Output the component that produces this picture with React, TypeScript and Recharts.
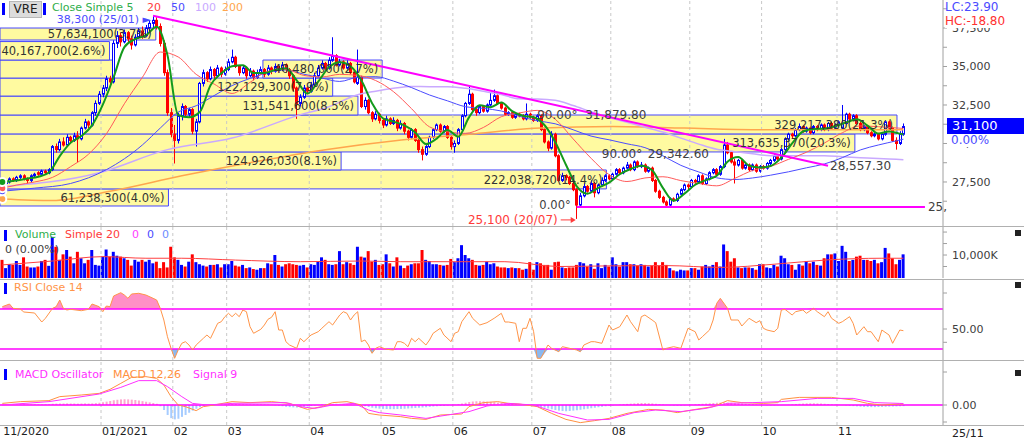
import React from 'react';
import {
  ComposedChart, Bar, Line, Area, XAxis, YAxis, Cell,
  ReferenceLine, ReferenceArea, ReferenceDot,
} from 'recharts';

const FONT = '"DejaVu Sans", Verdana, sans-serif';

// VRE daily candles, thousand VND, late 11/2020 .. 25/11/2021
const opens = [
  27.6, 27.4, 27.5, 27.7, 27.6, 27.8, 27.9, 27.7, 27.6, 27.9,
  28.1, 28.0, 28.2, 28.1, 28.3, 29.8, 29.6, 30.1, 29.9, 30.4,
  30.2, 30.5, 30.3, 31.0, 31.4, 31.2, 32.0, 32.6, 33.2, 33.6,
  34.2, 34.0, 36.5, 37.0, 36.6, 37.2, 36.8, 36.4, 36.9, 37.3,
  37.0, 37.5, 37.8, 38.0, 37.6, 36.5, 34.6, 32.0, 30.6, 30.2,
  31.8, 32.4, 31.9, 32.2, 30.8, 31.4, 33.9, 34.6, 34.2, 34.8,
  34.4, 34.9, 34.5, 34.8, 35.3, 35.6, 35.0, 34.6, 34.9, 34.4,
  34.7, 34.3, 34.6, 34.8, 34.5, 34.9, 34.7, 35.0, 34.8, 35.1,
  34.8, 34.4, 33.6, 32.6, 33.0, 33.6, 33.4, 33.8, 34.4, 34.9,
  35.2, 34.9, 35.4, 35.7, 35.1, 35.3, 34.9, 35.2, 34.6, 33.9,
  34.3, 32.4, 32.8, 32.0, 31.6, 31.9, 31.5, 31.2, 31.6, 31.3,
  31.5, 31.0, 31.3, 30.8, 30.4, 30.9, 30.2, 29.6, 29.3, 29.8,
  30.4, 30.9, 31.2, 30.8, 31.1, 30.4, 29.8, 30.0, 30.9, 31.8,
  32.6, 33.2, 32.2, 32.0, 32.4, 32.1, 32.5, 32.8, 33.1, 32.6,
  32.3, 31.9, 32.0, 31.7, 31.9, 31.8, 31.6, 31.9, 31.7, 31.5,
  31.8, 30.9, 30.1, 29.7, 30.6, 29.2, 27.6, 27.9, 27.8, 27.4,
  27.0, 26.0, 26.6, 27.2, 26.9, 27.4, 26.8, 27.3, 27.6, 27.9,
  27.7, 28.0, 28.3, 28.1, 28.4, 28.6, 28.3, 28.8, 28.5, 28.6,
  28.2, 28.4, 27.6, 26.9, 26.5, 26.2, 26.0, 26.4, 26.3, 26.7,
  27.0, 27.3, 27.2, 27.6, 27.5, 27.9, 27.4, 27.7, 28.1, 28.3,
  28.0, 28.5, 29.9, 29.4, 28.8, 28.6, 28.9, 28.4, 28.6, 28.3,
  28.6, 28.2, 28.5, 28.4, 28.7, 28.9, 29.2, 29.0, 29.6, 30.3,
  30.6, 30.5, 30.9, 31.1, 30.8, 31.0, 30.7, 31.1, 30.9, 31.2,
  30.9, 31.3, 31.0, 31.2, 31.0, 31.3, 31.9, 31.6, 31.8, 31.3,
  30.9, 31.1, 30.7, 30.5, 30.6, 30.3, 30.6, 31.4, 31.0, 30.2,
  30.0, 30.6,
];
const highs = [
  27.7, 27.6, 27.8, 27.8, 27.9, 28.0, 28.0, 27.8, 28.0, 28.1,
  28.2, 28.3, 28.3, 28.4, 29.9, 30.0, 30.3, 30.4, 30.6, 30.5,
  30.7, 30.8, 31.1, 31.6, 31.5, 32.1, 32.8, 33.4, 33.8, 34.4,
  34.4, 36.7, 37.3, 37.2, 37.4, 37.3, 37.0, 37.1, 37.5, 37.6,
  37.7, 38.0, 38.3, 38.2, 37.8, 36.7, 34.8, 32.3, 31.2, 32.0,
  32.6, 32.5, 32.3, 32.3, 31.6, 34.0, 34.8, 34.7, 35.0, 34.9,
  35.1, 35.0, 35.0, 35.5, 36.1, 35.7, 35.1, 35.1, 35.0, 34.9,
  34.8, 34.8, 35.0, 34.9, 35.1, 35.0, 35.2, 35.1, 35.3, 35.2,
  34.9, 34.5, 33.7, 33.2, 33.8, 33.7, 34.0, 34.6, 35.1, 35.4,
  35.3, 35.6, 36.9, 35.8, 35.5, 35.4, 35.4, 35.3, 34.7, 36.1,
  34.4, 33.0, 32.9, 32.1, 32.1, 32.0, 31.6, 31.8, 31.7, 31.7,
  31.6, 31.5, 31.4, 30.9, 31.0, 31.0, 30.3, 29.8, 29.9, 30.5,
  31.0, 31.3, 31.3, 31.2, 31.2, 30.5, 30.2, 31.0, 31.9, 32.7,
  33.7, 33.3, 32.4, 32.5, 32.5, 32.6, 33.3, 33.5, 33.2, 32.7,
  32.4, 32.1, 32.1, 32.0, 32.0, 31.9, 32.6, 32.0, 31.8, 31.9,
  31.9, 31.0, 30.2, 30.8, 30.7, 29.3, 28.1, 28.0, 27.9, 27.5,
  27.1, 26.8, 27.4, 27.3, 27.6, 27.5, 27.4, 27.8, 28.0, 28.0,
  28.1, 28.4, 28.4, 28.5, 28.8, 28.7, 28.9, 28.9, 28.8, 28.7,
  28.5, 28.5, 27.7, 27.0, 26.6, 26.3, 26.5, 26.5, 26.8, 27.1,
  27.4, 27.4, 27.7, 27.7, 28.0, 28.0, 27.8, 28.2, 28.4, 28.4,
  28.6, 30.3, 30.1, 29.5, 29.0, 29.0, 29.0, 28.7, 28.7, 28.7,
  28.7, 28.6, 28.6, 28.8, 29.0, 29.3, 29.3, 29.7, 30.4, 30.7,
  30.7, 31.0, 31.3, 31.2, 31.1, 31.1, 31.2, 31.2, 31.3, 31.3,
  31.4, 31.4, 31.3, 31.5, 32.5, 32.0, 32.0, 31.9, 31.9, 31.4,
  31.2, 31.2, 30.8, 30.7, 30.7, 30.7, 31.5, 31.5, 31.1, 30.4,
  30.8, 31.3,
];
const lows = [
  27.3, 27.3, 27.4, 27.5, 27.5, 27.7, 27.6, 27.4, 27.5, 27.8,
  27.9, 27.9, 28.0, 28.0, 28.2, 29.4, 29.5, 29.8, 29.8, 30.0,
  30.1, 28.8, 30.2, 30.9, 31.0, 31.1, 31.8, 32.5, 33.0, 33.4,
  33.8, 33.9, 36.2, 36.3, 36.5, 36.5, 36.1, 36.3, 36.8, 36.8,
  36.9, 37.3, 37.5, 37.4, 36.3, 34.4, 31.8, 30.4, 28.7, 30.0,
  31.5, 31.7, 31.7, 30.6, 29.8, 31.3, 33.7, 34.0, 34.1, 34.2,
  34.3, 34.3, 34.4, 34.7, 35.2, 34.9, 34.4, 34.5, 34.2, 34.3,
  34.1, 34.2, 34.5, 34.3, 34.4, 34.5, 34.6, 34.6, 34.7, 34.6,
  34.2, 33.4, 31.6, 32.4, 32.9, 33.2, 33.3, 33.7, 34.3, 34.8,
  34.7, 34.8, 35.3, 35.0, 35.0, 34.8, 34.8, 34.5, 33.9, 33.8,
  32.3, 32.2, 31.9, 31.4, 31.5, 31.3, 31.0, 31.1, 31.2, 31.2,
  30.8, 30.9, 30.6, 30.2, 30.3, 30.1, 29.4, 28.9, 29.2, 29.7,
  30.3, 30.8, 30.7, 30.7, 30.3, 29.6, 29.4, 29.9, 30.8, 31.7,
  32.5, 32.1, 31.8, 31.9, 32.0, 32.0, 32.4, 32.7, 32.5, 32.2,
  31.8, 31.8, 31.6, 31.6, 31.7, 31.5, 31.5, 31.6, 31.4, 31.4,
  30.8, 30.0, 29.5, 29.6, 29.1, 27.5, 27.5, 27.6, 27.3, 26.9,
  25.1, 25.9, 26.5, 26.8, 26.8, 26.5, 26.7, 27.2, 27.5, 27.6,
  27.6, 27.9, 28.0, 28.0, 28.3, 28.2, 28.2, 28.4, 28.4, 28.1,
  28.1, 27.5, 26.8, 26.4, 26.1, 25.9, 25.9, 26.2, 26.2, 26.6,
  26.9, 27.0, 27.1, 27.3, 27.4, 27.3, 27.3, 27.6, 28.0, 27.9,
  27.9, 28.4, 29.3, 28.7, 27.4, 28.5, 28.3, 28.3, 28.2, 28.2,
  28.1, 28.1, 28.3, 28.3, 28.6, 28.8, 28.9, 28.9, 29.5, 30.2,
  30.3, 30.4, 30.8, 30.7, 30.7, 30.6, 30.6, 30.8, 30.8, 30.8,
  30.8, 30.9, 30.9, 31.1, 30.9, 31.2, 31.5, 31.5, 31.2, 30.8,
  30.8, 30.6, 30.4, 30.4, 30.2, 30.2, 30.5, 30.9, 30.1, 29.6,
  29.9, 30.5,
];
const closes = [
  27.4, 27.5, 27.7, 27.6, 27.8, 27.9, 27.7, 27.6, 27.9, 28.0,
  28.0, 28.2, 28.1, 28.3, 29.8, 29.6, 30.1, 29.9, 30.4, 30.2,
  30.5, 30.3, 31.0, 31.4, 31.2, 32.0, 32.6, 33.2, 33.6, 34.2,
  34.0, 36.5, 37.0, 36.6, 37.2, 36.8, 36.4, 36.9, 37.3, 37.0,
  37.5, 37.8, 38.0, 37.6, 36.5, 34.6, 32.0, 30.6, 30.2, 31.8,
  32.4, 31.9, 32.2, 30.8, 31.4, 33.9, 34.6, 34.2, 34.8, 34.4,
  34.9, 34.5, 34.8, 35.3, 35.6, 35.0, 34.6, 34.9, 34.4, 34.7,
  34.3, 34.6, 34.8, 34.5, 34.9, 34.7, 35.0, 34.8, 35.1, 34.8,
  34.4, 33.6, 32.6, 33.0, 33.6, 33.4, 33.8, 34.4, 34.9, 35.2,
  34.9, 35.4, 35.7, 35.1, 35.3, 34.9, 35.2, 34.6, 34.0, 34.3,
  32.4, 32.8, 32.0, 31.6, 31.9, 31.5, 31.2, 31.6, 31.3, 31.5,
  31.0, 31.3, 30.8, 30.4, 30.9, 30.2, 29.6, 29.3, 29.8, 30.4,
  30.9, 31.2, 30.8, 31.1, 30.4, 29.8, 30.0, 30.9, 31.8, 32.6,
  33.2, 32.2, 32.0, 32.4, 32.1, 32.5, 32.8, 33.1, 32.6, 32.3,
  31.9, 32.0, 31.7, 31.9, 31.8, 31.6, 31.9, 31.7, 31.5, 31.8,
  30.9, 30.1, 29.7, 30.6, 29.2, 27.6, 27.9, 27.8, 27.4, 27.0,
  26.0, 26.6, 27.2, 26.9, 27.4, 26.8, 27.3, 27.6, 27.9, 27.7,
  28.0, 28.3, 28.1, 28.4, 28.6, 28.3, 28.8, 28.5, 28.6, 28.2,
  28.4, 27.6, 26.9, 26.5, 26.2, 26.0, 26.4, 26.3, 26.7, 27.0,
  27.3, 27.2, 27.6, 27.5, 27.9, 27.4, 27.7, 28.1, 28.3, 28.0,
  28.5, 29.9, 29.4, 28.8, 28.6, 28.9, 28.4, 28.6, 28.3, 28.6,
  28.2, 28.5, 28.4, 28.7, 28.9, 29.2, 29.0, 29.6, 30.3, 30.6,
  30.5, 30.9, 31.1, 30.8, 31.0, 30.7, 31.1, 30.9, 31.2, 30.9,
  31.3, 31.0, 31.2, 31.4, 31.3, 31.9, 31.6, 31.8, 31.3, 30.9,
  31.1, 30.7, 30.5, 30.6, 30.3, 30.6, 31.4, 31.0, 30.2, 30.0,
  30.6, 31.1,
];
// volume, thousand shares
const volumes = [
  7900, 4300, 6000, 5700, 7400, 5700, 9000, 5000, 4600, 4600,
  5000, 7400, 7900, 5300, 17900, 13600, 7900, 10300, 12200, 9300,
  6400, 11400, 8600, 6400, 7900, 12200, 5700, 5400, 9300, 12400,
  9300, 11400, 9700, 9300, 8600, 7900, 5400, 7900, 7100, 7900,
  7100, 7900, 6400, 7100, 4300, 6900, 4600, 13600, 9000, 7900,
  5700, 5000, 7100, 10300, 6900, 6000, 5400, 5000, 5700, 5700,
  6000, 4600, 6000, 6000, 7400, 5400, 5000, 5700, 4300, 4600,
  3900, 3600, 4300, 4300, 6400, 6000, 10000, 5700, 5000, 6000,
  6400, 6000, 5700, 5400, 5700, 4600, 6000, 5700, 7100, 9000,
  7900, 6000, 5700, 6000, 11700, 6000, 6900, 6400, 5700, 13600,
  9300, 8900, 11700, 7100, 7900, 5700, 6000, 10300, 6400, 5000,
  9000, 5400, 4300, 5400, 6000, 6400, 6400, 12200, 7900, 7400,
  6000, 6000, 5700, 5400, 5700, 8300, 6900, 8600, 14300, 10000,
  8600, 7900, 5700, 5400, 5700, 7100, 6000, 6400, 5000, 4600,
  4600, 4300, 4600, 4300, 4300, 3600, 4000, 6900, 3600, 6900,
  6400, 5700, 5700, 3600, 6900, 7100, 4600, 4300, 4600, 4600,
  5700, 6900, 6400, 5000, 6000, 4000, 6400, 4300, 5700, 5000,
  9000, 6000, 5000, 6900, 6900, 6000, 6000, 5400, 6000, 5700,
  5000, 5400, 6900, 5400, 6900, 5700, 4300, 3300, 2900, 3600,
  3300, 3300, 4300, 4300, 3600, 5000, 5700, 5000, 5700, 6900,
  5000, 14600, 11700, 7100, 8600, 4600, 4300, 4600, 4600, 4300,
  3600, 6000, 6000, 4600, 4300, 5700, 5000, 9700, 8600, 6000,
  5700, 3600, 6000, 5400, 7400, 6400, 7100, 5700, 5400, 8600,
  10300, 10300, 10700, 7400, 14000, 11400, 7400, 7900, 9300, 9700,
  7900, 7900, 7400, 7900, 6400, 6900, 13100, 10700, 8600, 6000,
  7900, 10300,
];

// moving averages: [day index, value]
const sma5 = [
  [0, 27.5], [4, 27.6], [7, 27.72], [10, 27.84], [13, 28.12], [16, 29.18], [19, 30.04], [22, 30.48],
  [25, 31.18], [28, 32.52], [31, 34.3], [34, 36.26], [37, 36.78], [40, 37.02], [43, 37.58], [46, 35.74],
  [49, 31.84], [52, 31.7], [55, 32.04], [58, 33.78], [61, 34.56], [64, 35.02], [67, 35.08], [70, 34.58],
  [73, 34.58], [76, 34.78], [79, 34.88], [82, 34.1], [85, 33.24], [88, 34.02], [91, 34.96], [94, 35.28],
  [97, 35.02], [100, 34.1], [103, 32.62], [106, 31.64], [109, 31.42], [112, 31.18], [115, 30.72], [118, 29.96],
  [121, 30.32], [124, 30.88], [127, 30.44], [130, 31.7], [133, 32.48], [136, 32.36], [139, 32.66], [142, 32.1],
  [145, 31.8], [148, 31.7], [151, 31.2], [154, 30.1], [157, 28.62], [160, 27.22], [163, 26.74], [166, 27.12],
  [169, 27.46], [172, 28.0], [175, 28.34], [178, 28.56], [181, 28.26], [184, 27.12], [187, 26.28], [190, 26.74],
  [193, 27.32], [196, 27.62], [199, 27.9], [202, 28.82], [205, 29.12], [208, 28.56], [211, 28.44], [214, 28.54],
  [217, 29.08], [220, 30.0], [223, 30.78], [226, 30.94], [229, 30.96], [232, 31.12], [235, 31.36], [238, 31.58],
  [241, 31.16], [244, 30.64], [247, 30.78], [250, 30.64], [251, 30.58],
];
const sma20 = [
  [0, 27.1], [4, 27.3], [9, 27.5], [14, 27.8], [19, 28.49], [24, 29.3], [29, 30.63], [34, 32.58],
  [39, 34.29], [44, 35.94], [49, 35.62], [54, 34.49], [59, 33.86], [64, 33.25], [69, 33.97], [74, 34.69],
  [79, 34.81], [84, 34.42], [89, 34.32], [94, 34.49], [99, 34.42], [104, 34.09], [109, 33.36], [114, 32.26],
  [119, 31.08], [124, 30.76], [129, 30.66], [134, 31.04], [139, 31.74], [144, 31.98], [149, 32.15], [154, 31.58],
  [159, 30.3], [164, 29.04], [169, 27.98], [174, 27.53], [179, 27.76], [184, 27.84], [189, 27.59], [194, 27.4],
  [199, 27.25], [204, 27.73], [209, 28.25], [214, 28.51], [219, 28.97], [224, 29.43], [229, 30.03], [234, 30.7],
  [239, 31.14], [244, 31.09], [249, 31.01], [251, 30.98],
];
const sma50 = [
  [0, 26.9], [9, 27.1], [19, 27.4], [29, 28.3], [39, 29.9], [44, 31.0], [49, 32.04], [54, 32.45],
  [59, 33.11], [64, 33.76], [69, 34.23], [74, 34.61], [79, 34.78], [84, 34.5], [89, 34.25], [94, 34.03],
  [99, 34.3], [104, 34.34], [109, 34.05], [114, 33.63], [119, 33.15], [124, 32.77], [129, 32.39], [134, 32.28],
  [139, 32.11], [144, 31.77], [149, 31.48], [154, 31.28], [159, 30.89], [164, 30.48], [169, 30.24], [174, 29.98],
  [179, 29.73], [184, 29.2], [189, 28.58], [194, 28.15], [199, 27.77], [204, 27.66], [209, 27.76], [214, 27.94],
  [219, 28.16], [224, 28.42], [229, 28.67], [234, 29.08], [239, 29.58], [244, 29.9], [249, 30.17], [251, 30.28],
];
const sma100 = [
  [0, 27.2], [27, 28.1], [46, 29.6], [64, 30.35], [84, 31.94], [90, 32.3], [99, 33.17], [104, 33.4],
  [109, 33.58], [114, 33.7], [119, 33.69], [124, 33.69], [129, 33.58], [134, 33.39], [139, 33.18], [144, 32.9],
  [149, 32.89], [154, 32.81], [159, 32.47], [164, 32.06], [169, 31.69], [174, 31.38], [179, 31.06], [184, 30.74],
  [189, 30.35], [194, 29.96], [199, 29.62], [204, 29.47], [209, 29.33], [214, 29.21], [219, 29.2], [224, 29.2],
  [229, 29.2], [234, 29.14], [239, 29.08], [244, 29.02], [249, 28.97], [251, 28.95],
];
const sma200 = [
  [0, 26.4], [14, 26.3], [30, 26.9], [50, 27.9], [70, 28.8], [90, 29.6], [110, 30.2], [130, 30.6],
  [150, 31.0], [170, 31.1], [190, 31.0], [210, 30.9], [230, 30.9], [251, 30.9],
];
const volSma20 = [
  [0, 5700], [14, 7400], [28, 9300], [40, 8600], [50, 8600], [65, 7800], [83, 7100], [100, 7400],
  [111, 7100], [130, 7100], [140, 7100], [155, 5000], [170, 5300], [185, 5400], [200, 4600], [215, 6000],
  [230, 7900], [245, 8600], [251, 8600],
];

const rsi14 = [
  [0, 72.3], [2, 75], [3, 70.7], [5, 70], [6, 67], [9, 66], [11, 57], [12, 60.7], [14, 70.7], [15, 72.3],
  [16, 79], [17, 70.7], [18, 69], [19, 69.7], [22, 68.3], [24, 69.7], [25, 75], [27, 72.3], [28, 67.3], [29, 73],
  [30, 72.3], [31, 83], [33, 86.3], [34, 84], [35, 80.7], [36, 85], [38, 85.7], [40, 84], [42, 80.7], [43, 79],
  [44, 70.7], [45, 59], [46, 42.3], [47, 30.7], [48, 20.7], [49, 29], [50, 35.7], [51, 37.3], [52, 34], [53, 29],
  [54, 34], [56, 40.7], [57, 44], [58, 40.7], [60, 55.7], [61, 57.3], [62, 62.3], [63, 65.7], [64, 62.3], [65, 65.7],
  [66, 62.3], [67, 69], [68, 67.3], [69, 52.3], [70, 45.7], [72, 49.7], [73, 54], [74, 59.7], [75, 61.7], [76, 67.3],
  [77, 49], [78, 49], [79, 37.3], [80, 34], [82, 30.7], [83, 40.7], [84, 37.3], [86, 44], [88, 47.3], [89, 50.7],
  [91, 57.3], [92, 54], [94, 64], [95, 67.3], [96, 65.7], [97, 59], [98, 64], [99, 67.3], [100, 37.3], [101, 39],
  [102, 34], [103, 25.7], [104, 30.7], [105, 32.3], [107, 29.7], [109, 29], [110, 37.3], [111, 37.3], [112, 35.7], [113, 32.3],
  [114, 40.7], [115, 37.3], [116, 40.7], [118, 34], [119, 39], [120, 45.7], [122, 50.7], [123, 44], [125, 37.3], [126, 45.7],
  [127, 47.3], [128, 57.3], [130, 67.3], [131, 60.7], [133, 54], [135, 56.3], [137, 60.7], [139, 65.7], [140, 57], [141, 57],
  [143, 55.7], [144, 37.3], [145, 50.7], [146, 50.7], [147, 60.7], [148, 47.3], [149, 20.7], [150, 20.7], [152, 34], [153, 30.7],
  [155, 27.3], [156, 32.3], [158, 30.7], [160, 29], [161, 27.3], [162, 34], [164, 37.3], [165, 37.3], [167, 35.7], [169, 54],
  [170, 49], [172, 52.3], [174, 64], [175, 57.3], [177, 47.3], [178, 62.3], [179, 64], [181, 59], [182, 56.3], [184, 29],
  [185, 30.7], [187, 32.3], [189, 30.7], [190, 40.7], [191, 50.7], [193, 47.3], [194, 39], [195, 42.3], [197, 49], [198, 59],
  [199, 75.7], [200, 80.7], [202, 70.7], [203, 59], [205, 59], [206, 53], [208, 60.7], [210, 56.3], [211, 58.3], [212, 50.7],
  [213, 49], [215, 47.3], [216, 50.7], [217, 69], [218, 69.7], [220, 64], [221, 67.3], [223, 69], [224, 65.7], [226, 70.7],
  [227, 67.3], [229, 62.3], [230, 67.3], [231, 60.7], [233, 55.7], [234, 57.3], [236, 62.3], [237, 55.7], [238, 44], [240, 52.3],
  [241, 47.3], [242, 47.3], [244, 37.3], [245, 49], [247, 44], [248, 35.7], [250, 49], [251, 48.3],
];

// MACD 12,26 / signal 9, thousand VND
const macdLine = [
  [0, 0.13], [5, 0.27], [13, 0.35], [16, 0.67], [22, 0.8], [27, 0.93], [30, 1.25], [33, 1.73], [36, 2.21], [40, 2.27],
  [43, 2.13], [45, 1.6], [47, 0.67], [49, 0], [51, -0.13], [54, -0.45], [56, -0.13], [59, 0], [64, 0.27], [69, 0.19],
  [75, 0.27], [80, 0.13], [85, -0.35], [89, -0.13], [92, 0.19], [96, 0.27], [100, 0], [102, -0.67], [105, -0.8], [111, -0.93],
  [114, -1.07], [118, -1.15], [122, -0.8], [128, -0.72], [130, -0.13], [134, 0.19], [138, 0.27], [141, 0.13], [144, 0.08], [149, -0.13],
  [153, -0.67], [157, -1.15], [161, -1.41], [165, -1.25], [169, -1.07], [174, -0.67], [180, -0.35], [184, -0.4], [188, -0.61], [192, -0.4],
  [198, -0.13], [202, 0.35], [206, 0.19], [212, 0.13], [216, 0.19], [217, 0.45], [222, 0.61], [231, 0.61], [237, 0.4], [241, 0.13],
  [245, 0], [250, 0.08], [251, 0.08],
];
const signalLine = [
  [0, 0], [13, 0.27], [27, 0.88], [33, 1.41], [38, 1.95], [43, 1.95], [46, 1.47], [50, 0.67], [53, 0.13], [57, 0],
  [64, 0.13], [79, 0.19], [83, -0.13], [87, -0.27], [92, 0], [98, 0.13], [102, -0.4], [105, -0.61], [111, -0.8], [118, -1.07],
  [124, -0.8], [130, -0.53], [135, -0.08], [141, 0.13], [148, 0], [155, -0.67], [163, -1.2], [169, -1.15], [176, -0.61], [182, -0.4],
  [189, -0.53], [196, -0.27], [202, 0.13], [209, 0.19], [217, 0.27], [227, 0.53], [237, 0.53], [243, 0.19], [250, 0.13], [251, 0.12],
];
const macdHist = [
  0.03, 0.03, 0.04, 0.03, 0.04, 0.05, 0.04, 0.03, 0.04, 0.05, 0.05, 0.04, 0.05, 0.06,
  0.10, 0.11, 0.12, 0.12, 0.13, 0.12, 0.12, 0.11, 0.12, 0.13, 0.12, 0.13, 0.15, 0.18,
  0.22, 0.27, 0.32, 0.38, 0.42, 0.45, 0.46, 0.45, 0.43, 0.40, 0.36, 0.31, 0.26, 0.21, 0.16,
  0.10, -0.10, -0.40, -0.80, -1.05, -1.15, -1.10, -0.95, -0.80, -0.62, -0.45, -0.30, -0.18, -0.08, 0.00,
  0.03, 0.05, 0.06, 0.07, 0.07, 0.08, 0.08, 0.07, 0.06, 0.05, 0.05, 0.04, 0.04, 0.05, 0.05, 0.04, 0.03, 0.02,
  -0.03, -0.06, -0.10, -0.14, -0.17, -0.19, -0.20, -0.18, -0.15, -0.12,
  -0.08, -0.04, 0.00, 0.04, 0.07, 0.09, 0.10, 0.10, 0.09, 0.08, 0.06, 0.04, 0.02, 0.00, -0.04,
  -0.10, -0.16, -0.22, -0.26, -0.29, -0.31, -0.32, -0.33, -0.33, -0.32, -0.31, -0.30, -0.28,
  -0.26, -0.24, -0.22, -0.20, -0.18, -0.15, -0.12, -0.10, -0.08, -0.06, -0.04, -0.02,
  0.02, 0.06, 0.12, 0.18, 0.24, 0.28, 0.30, 0.30, 0.29, 0.27, 0.25, 0.22, 0.19, 0.16, 0.13, 0.10,
  0.08, 0.06, 0.04, 0.02, 0.01, 0.00,
  -0.05, -0.10, -0.16, -0.22, -0.28, -0.34, -0.40, -0.45, -0.48, -0.50, -0.48, -0.45, -0.42,
  -0.38, -0.34, -0.30, -0.26, -0.22, -0.18, -0.14, -0.10, -0.06, -0.03, 0.00, 0.03,
  0.06, 0.09, 0.11, 0.13, 0.15, 0.16, 0.16, 0.15, 0.13, 0.10, 0.07, 0.04, 0.01,
  -0.02, -0.04, -0.05, -0.05, -0.03,
  0.00, 0.03, 0.06, 0.08, 0.10, 0.12, 0.14, 0.16, 0.18, 0.19, 0.20, 0.19, 0.18, 0.16, 0.14, 0.12, 0.10, 0.08, 0.06, 0.04,
  0.02, 0.00, -0.02, -0.03, -0.03, -0.02, -0.01, 0.00,
  0.02, 0.05, 0.08, 0.10, 0.12, 0.13, 0.14, 0.14, 0.13, 0.12, 0.10, 0.08, 0.06, 0.04,
  0.02, 0.00, -0.03, -0.06, -0.09, -0.11, -0.13, -0.15, -0.16, -0.17, -0.17, -0.16, -0.15, -0.14, -0.13, -0.12, -0.11, -0.10, -0.09,
];

// volume profile by price bin
const binLow = [25.94, 27.05, 28.28, 29.45, 30.62, 31.85, 33.08, 34.25, 35.42, 36.72];
const binHigh = [27.05, 28.28, 29.45, 30.62, 31.85, 33.08, 34.25, 35.42, 36.62, 37.5];
const binVolume = [61238300, 222038720, 124926030, 313635370, 329217380, 131541600, 122129300, 40480000, 40167700, 57634100];
const binPct = [4.0, 14.4, 8.1, 20.3, 21.3, 8.5, 7.9, 2.7, 2.6, 3.7];

const monthEdges = [27.5, 47.5, 62.5, 85.5, 105.5, 125.5, 147.5, 169.5, 191.5, 211.5, 232.5];
const monthTicks = [0, ...monthEdges];
const monthLabels = ['11/2020', '01/2021', '02', '03', '04', '05', '06', '07', '08', '09', '10', '11'];
const priceTicks = [26.25, 27.5, 28.75, 30, 31.25, 32.5, 33.75, 35, 36.25, 37.5, 38.75];

const X_DOMAIN = [-0.64, 262.03];
const PCT_TO_IDX = 11.73;
// the 2.7% bin prints its label in a box further right, not at the bar end
const SHIFTED_BIN = 7;
const SHIFTED_BOX = [72.6, 105.8];
const GRID = '#c8c8c8';
const AXIS = '#a0a0a0';
const UP = '#0000ff';
const DOWN = '#ff0000';
const MAGENTA = '#ff00ff';
const BIN_FILL = '#fffaa0';
const BIN_EDGE = '#4646ff';

const priceRows: any[] = closes.map((c, i) => ({ i, o: opens[i], h: highs[i], l: lows[i], c }));
const put = (rows: any[], key: string, pts: number[][]) => pts.forEach(([i, v]) => { rows[i][key] = v; });
put(priceRows, 'ma5', sma5);
put(priceRows, 'ma20', sma20);
put(priceRows, 'ma50', sma50);
put(priceRows, 'ma100', sma100);
put(priceRows, 'ma200', sma200);

const volRows: any[] = volumes.map((v, i) => ({ i, v, up: closes[i] >= opens[i] }));
put(volRows, 'vma', volSma20);

const rsiRows = rsi14.map(([i, v]) => ({ i, v }));

const macdRows: any[] = macdHist.map((h, i) => ({ i, h }));
put(macdRows, 'macd', macdLine);
put(macdRows, 'sig', signalLine);

const axisTick = { fill: '#404040', fontSize: 11, fontFamily: FONT };
const M0 = { top: 0, right: 0, bottom: 0, left: 0 };
const binLabel = (k: number) => `${binVolume[k].toLocaleString('en-US')}(${binPct[k].toFixed(1)}%)`;

const Candle = (props: any) => {
  const { x, y, width, height, payload } = props;
  if (x == null || !payload) return null;
  const top = Math.min(y, y + height);
  const hh = Math.abs(height);
  const { o, h, l, c } = payload;
  const span = h - l || 1;
  const at = (v: number) => top + ((h - v) / span) * hh;
  const up = c >= o;
  const col = up ? UP : DOWN;
  const cx = Math.round(x + width / 2) + 0.5;
  const bTop = at(Math.max(o, c));
  const bBot = at(Math.min(o, c));
  return (
    <g>
      <line x1={cx} x2={cx} y1={top} y2={top + hh} stroke={col} strokeWidth={1} />
      <rect x={cx - 1} y={bTop} width={2} height={Math.max(bBot - bTop, 1)} fill={up ? '#ffffff' : col} stroke={col} strokeWidth={1} />
    </g>
  );
};

const note = (text: string, color: string, dx: number, dy: number, anchor = 'start', size = 12) => (p: any) => {
  const vb = p.viewBox;
  if (!vb) return null;
  return (
    <text x={vb.x + dx} y={vb.y + dy} fill={color} fontSize={size} fontFamily={FONT} textAnchor={anchor} dominantBaseline="central">
      {text}
    </text>
  );
};

const lowNote = (p: any) => {
  const vb = p.viewBox;
  if (!vb) return null;
  const x = vb.x;
  const y = vb.y + 1;
  return (
    <g>
      <text x={x - 19} y={y} fill="#ff3b3b" fontSize={12} fontFamily={FONT} textAnchor="end" dominantBaseline="central">25,100 (20/07)</text>
      <line x1={x - 16} x2={x - 4} y1={y} y2={y} stroke="#ff3b3b" strokeWidth={1} />
      <polygon points={`${x - 1},${y} ${x - 6},${y - 3} ${x - 6},${y + 3}`} fill="#ff3b3b" />
    </g>
  );
};

const gridLines = () =>
  monthEdges.map((m) => <ReferenceLine key={m} x={m} stroke={GRID} strokeDasharray="3 3" ifOverflow="visible" />);

const labelStyle = { fill: '#333333', fontSize: 11.5, fontFamily: FONT };

const PriceChart = () => (
  <ComposedChart width={1024} height={226} data={priceRows} margin={M0}>
    <XAxis type="number" dataKey="i" domain={X_DOMAIN} hide allowDataOverflow />
    <YAxis
      orientation="right" width={81} domain={[24.64, 39.32]} allowDataOverflow ticks={priceTicks} interval={0}
      tickFormatter={(v: number) => (Math.round(v * 1000) % 2500 === 0 ? Math.round(v * 1000).toLocaleString('en-US') : '')}
      tick={axisTick} tickSize={4} tickMargin={5} axisLine={{ stroke: AXIS }} tickLine={{ stroke: AXIS }}
    />
    {gridLines()}
    {binPct.map((pct, k) => (
      <ReferenceArea
        key={k} x1={X_DOMAIN[0]} x2={X_DOMAIN[0] + pct * PCT_TO_IDX} y1={binLow[k]} y2={binHigh[k]}
        fill={BIN_FILL} fillOpacity={1} stroke={BIN_EDGE} strokeWidth={1} ifOverflow="visible"
        label={k === SHIFTED_BIN ? undefined : { value: binLabel(k), position: 'insideRight', offset: 4, ...labelStyle }}
      />
    ))}
    <ReferenceArea
      x1={SHIFTED_BOX[0]} x2={SHIFTED_BOX[1]} y1={binLow[SHIFTED_BIN]} y2={binHigh[SHIFTED_BIN]}
      fill={BIN_FILL} fillOpacity={1} stroke={BIN_EDGE} strokeWidth={1} ifOverflow="visible"
      label={{ value: binLabel(SHIFTED_BIN), position: 'insideRight', offset: 4, ...labelStyle }}
    />
    <Line dataKey="ma200" type="monotone" stroke="#ffa64d" strokeWidth={1.5} dot={false} connectNulls isAnimationActive={false} />
    <Line dataKey="ma100" type="monotone" stroke="#c9a9ff" strokeWidth={1.5} dot={false} connectNulls isAnimationActive={false} />
    <Line dataKey="ma50" type="monotone" stroke="#4b4bff" strokeWidth={1} dot={false} connectNulls isAnimationActive={false} />
    <Line dataKey="ma20" type="monotone" stroke="#ff5a5a" strokeWidth={1} dot={false} connectNulls isAnimationActive={false} />
    <Bar dataKey={(d: any) => [d.l, d.h]} shape={Candle} barSize={3} isAnimationActive={false} />
    <Line dataKey="ma5" type="monotone" stroke="#139a1c" strokeWidth={2} dot={false} connectNulls isAnimationActive={false} />
    <ReferenceLine segment={[{ x: 42, y: 38.3 }, { x: 230, y: 28.557 }]} stroke={MAGENTA} strokeWidth={2} ifOverflow="visible" />
    <ReferenceLine segment={[{ x: 160, y: 25.87 }, { x: 257, y: 25.87 }]} stroke={MAGENTA} strokeWidth={2} ifOverflow="visible" />
    <ReferenceDot x={42} y={38.3} r={0} fill="none" stroke="none" ifOverflow="visible" label={{ content: note('38,300 (25/01) ►', '#4b4bff', -2, 4, 'end', 11) }} />
    <ReferenceDot x={149} y={31.88} r={0} fill="none" stroke="none" ifOverflow="visible" label={{ content: note('90.00°', '#404040', 0, 0) }} />
    <ReferenceDot x={149} y={31.88} r={0} fill="none" stroke="none" ifOverflow="visible" label={{ content: note('31,879.80', '#404040', 48, 0) }} />
    <ReferenceDot x={167} y={29.3426} r={0} fill="none" stroke="none" ifOverflow="visible" label={{ content: note('90.00°', '#404040', 0, 0) }} />
    <ReferenceDot x={167} y={29.3426} r={0} fill="none" stroke="none" ifOverflow="visible" label={{ content: note('29,342.60', '#404040', 46, 0) }} />
    <ReferenceDot x={230} y={28.557} r={0} fill="none" stroke="none" ifOverflow="visible" label={{ content: note('28,557.30', '#404040', 2, 0) }} />
    <ReferenceDot x={160} y={25.87} r={0} fill="none" stroke="none" ifOverflow="visible" label={{ content: note('0.00°', '#404040', -6, -2, 'end', 11.5) }} />
    <ReferenceDot x={257} y={25.87} r={0} fill="none" stroke="none" ifOverflow="visible" label={{ content: note('25,', '#404040', 3, 0) }} />
    <ReferenceDot x={160} y={25.1} r={0} fill="none" stroke="none" ifOverflow="visible" label={{ content: lowNote }} />
  </ComposedChart>
);

const VolumeChart = () => (
  <ComposedChart width={1024} height={51} data={volRows} margin={M0}>
    <XAxis type="number" dataKey="i" domain={X_DOMAIN} hide allowDataOverflow />
    <YAxis
      orientation="right" width={81} domain={[0, 22200]} allowDataOverflow ticks={[5000, 10000, 15000, 20000]} interval={0}
      tickFormatter={(v: number) => (v === 10000 ? '10,000K' : '')}
      tick={axisTick} tickSize={4} tickMargin={5} axisLine={{ stroke: AXIS }} tickLine={{ stroke: AXIS }}
    />
    {gridLines()}
    <Bar dataKey="v" barSize={3} isAnimationActive={false}>
      {volRows.map((r) => <Cell key={r.i} fill={r.up ? UP : DOWN} />)}
    </Bar>
    <Line dataKey="vma" type="monotone" stroke="#ff4040" strokeWidth={1} dot={false} connectNulls isAnimationActive={false} />
  </ComposedChart>
);

const RsiChart = () => (
  <ComposedChart width={1024} height={80} data={rsiRows} margin={M0}>
    <XAxis type="number" dataKey="i" domain={X_DOMAIN} hide allowDataOverflow />
    <YAxis
      orientation="right" width={81} domain={[19, 99]} allowDataOverflow ticks={[36.7, 50, 86]} interval={0}
      tickFormatter={(v: number) => (v === 50 ? '50.00' : '')}
      tick={axisTick} tickSize={4} tickMargin={5} axisLine={{ stroke: AXIS }} tickLine={{ stroke: AXIS }}
    />
    {gridLines()}
    <Area dataKey={(d: any) => [70, Math.max(70, d.v)]} type="linear" stroke="none" fill="#ff8fc6" fillOpacity={1} isAnimationActive={false} />
    <Area dataKey={(d: any) => [Math.min(30, d.v), 30]} type="linear" stroke="none" fill="#8ab8f0" fillOpacity={1} isAnimationActive={false} />
    <ReferenceLine y={70} stroke={MAGENTA} strokeWidth={1.5} />
    <ReferenceLine y={30} stroke={MAGENTA} strokeWidth={1.5} />
    <Line dataKey="v" type="linear" stroke="#ff9448" strokeWidth={1} dot={false} isAnimationActive={false} />
  </ComposedChart>
);

const MonthTick = (p: any) => {
  const k = monthTicks.indexOf(p.payload.value);
  return (
    <text x={p.x + 1} y={p.y + 2} fill="#202020" fontSize={11} fontFamily={FONT} textAnchor="start">
      {monthLabels[k]}
    </text>
  );
};

const MacdChart = () => (
  <ComposedChart width={1024} height={82} data={macdRows} margin={M0}>
    <XAxis
      type="number" dataKey="i" domain={X_DOMAIN} allowDataOverflow ticks={monthTicks} interval={0} height={18}
      axisLine={false} tickLine={false} tick={MonthTick}
    />
    <YAxis
      orientation="right" width={81} domain={[-1.6, 3.52]} allowDataOverflow ticks={[-1.36, 0, 2.64]} interval={0}
      tickFormatter={(v: number) => (v === 0 ? '0.00' : '')}
      tick={axisTick} tickSize={4} tickMargin={5} axisLine={{ stroke: AXIS }} tickLine={{ stroke: AXIS }}
    />
    {gridLines()}
    <Bar dataKey="h" barSize={2} isAnimationActive={false}>
      {macdRows.map((r) => <Cell key={r.i} fill={r.h >= 0 ? '#ffa6cf' : '#a6ccff'} />)}
    </Bar>
    <ReferenceLine y={0} stroke={MAGENTA} strokeWidth={1.5} />
    <Line dataKey="macd" type="linear" stroke="#ff9040" strokeWidth={1} dot={false} connectNulls isAnimationActive={false} />
    <Line dataKey="sig" type="linear" stroke="#ff30ff" strokeWidth={1} dot={false} connectNulls isAnimationActive={false} />
  </ComposedChart>
);

const txt = (left: number, top: number, color: string, text: string, extra: any = {}) => (
  <div style={{ position: 'absolute', left, top, color, fontSize: 11, fontFamily: FONT, lineHeight: '13px', whiteSpace: 'nowrap', ...extra }}>
    {text}
  </div>
);
const mark = (left: number, top: number, h = 12) => (
  <div style={{ position: 'absolute', left, top, width: 3, height: h, background: '#0000ff' }} />
);
const hline = (top: number) => (
  <div style={{ position: 'absolute', left: 0, top, width: 1024, height: 1, background: '#b0b0b0' }} />
);
const icon = (top: number) => (
  <div style={{ position: 'absolute', left: 1015, top, width: 6, height: 6, background: '#222' }} />
);

export default function App() {
  return (
    <div style={{ position: 'absolute', left: 0, top: 0, width: 1024, height: 443, background: '#ffffff', overflow: 'hidden', fontFamily: FONT }}>
      <div style={{ position: 'absolute', left: 0, top: 0 }}><PriceChart /></div>
      <div style={{ position: 'absolute', left: 0, top: 227 }}><VolumeChart /></div>
      <div style={{ position: 'absolute', left: 0, top: 280 }}><RsiChart /></div>
      <div style={{ position: 'absolute', left: 0, top: 361 }}><MacdChart /></div>
      {hline(226)}
      {hline(279)}
      {hline(360)}
      {hline(425)}

      {/* price legend */}
      {mark(2, 3)}
      <div style={{ position: 'absolute', left: 9, top: 1, width: 31, height: 15, background: '#dcdcdc', border: '1px solid #b8b8b8', color: '#202020', fontSize: 12, fontFamily: FONT, lineHeight: '15px', textAlign: 'center' }}>VRE</div>
      {mark(43, 3)}
      {txt(52, 1, '#2fae4a', 'Close Simple 5')}
      {txt(147, 1, '#ff3b3b', '20')}
      {txt(171, 1, '#4b4bff', '50')}
      {txt(195, 1, '#c9a9ff', '100')}
      {txt(222, 1, '#ffa64d', '200')}

      {/* right side price labels */}
      {txt(945, 1, '#4b4bff', 'LC:23.90', { fontSize: 12 })}
      {txt(945, 15, '#ff3030', 'HC:-18.80', { fontSize: 12, background: '#fff', paddingRight: 20 })}
      <div style={{ position: 'absolute', left: 947, top: 118, width: 77, height: 16, background: '#0000ff', color: '#fff', fontSize: 13, fontFamily: FONT, lineHeight: '16px', paddingLeft: 5 }}>31,100</div>
      {txt(951, 134, '#4b4bff', '0.00%', { fontSize: 12, background: '#fff', paddingRight: 20 })}

      {/* volume legend */}
      {mark(4, 230, 11)}
      {txt(15, 228, '#2fae4a', 'Volume')}
      {txt(65, 228, '#ff3b3b', 'Simple 20')}
      {txt(132, 228, '#ff40ff', '0')}
      {txt(147, 228, '#4b4bff', '0')}
      {txt(162, 228, '#6c8cff', '0')}
      {txt(5, 243, '#404040', '0 (0.00%)')}
      {icon(230)}

      {/* rsi legend */}
      {mark(4, 283, 11)}
      {txt(14, 281, '#ff9448', 'RSI Close 14')}
      {icon(282)}

      {/* macd legend */}
      {mark(4, 369, 11)}
      {txt(15, 368, '#ff30ff', 'MACD Oscillator')}
      {txt(113, 368, '#ff9040', 'MACD 12,26')}
      {txt(193, 368, '#ff30ff', 'Signal 9')}
      {icon(370)}

      {txt(952, 427, '#202020', '25/11')}
    </div>
  );
}
